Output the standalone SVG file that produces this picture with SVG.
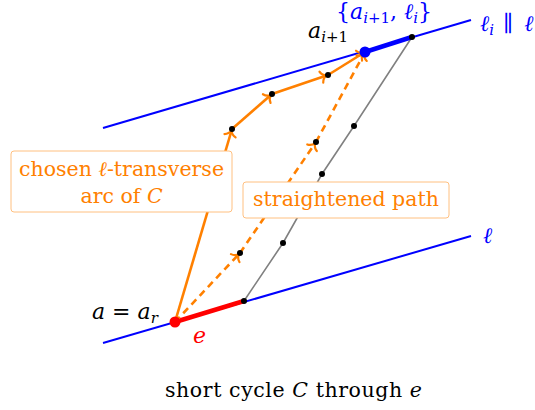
<svg xmlns="http://www.w3.org/2000/svg" width="535" height="410" viewBox="0 0 535 410">
<style>
text{font-family:"DejaVu Serif","Liberation Serif",serif;font-size:20.5px}
.it{font-style:italic}
.m{font-size:22px}
.s{font-size:15px}
.or{fill:#ff8000}
.box{fill:#fff;stroke:#ffc080;stroke-width:1}
.bl{stroke:#0000ff;stroke-width:2;fill:none}
.os{stroke:#ff8000;stroke-width:2.6;fill:none;marker-end:url(#ar)}
.od{stroke:#ff8000;stroke-width:2.6;fill:none;stroke-dasharray:7 5;marker-end:url(#ar)}
.dot{fill:#000}
</style>
<defs>
<marker id="ar" markerUnits="userSpaceOnUse" markerWidth="14" markerHeight="14" refX="1.5" refY="0" orient="auto" overflow="visible">
<path d="M -5.5,-5.8 C -4.6,-2.8 -2,-0.7 0,0 C -2,0.7 -4.6,2.8 -5.5,5.8" fill="none" stroke="#ff8000" stroke-width="2.2" stroke-linecap="round"/>
</marker>
</defs>
<g id="connectors">
<line class="bl" x1="103" y1="343" x2="471" y2="236"/>
<line class="bl" x1="103" y1="128" x2="471" y2="20"/>
<polyline points="244,301 283,243 322,174 354,126 412,37" fill="none" stroke="#808080" stroke-width="1.6"/>
<line x1="175" y1="322" x2="244" y2="301" stroke="#ff0000" stroke-width="4.5"/>
<line x1="365" y1="52" x2="412" y2="37" stroke="#0000ff" stroke-width="4.5"/>
<line class="os" x1="175" y1="322" x2="232" y2="129"/>
<line class="os" x1="232" y1="129" x2="272" y2="94"/>
<line class="os" x1="272" y1="94" x2="328" y2="75"/>
<line class="os" x1="328" y1="75" x2="365" y2="52"/>
<line class="od" x1="175" y1="322" x2="240" y2="253"/>
<line class="od" x1="240" y1="253" x2="316" y2="142"/>
<line class="od" x1="316" y1="142" x2="365" y2="52"/>
</g>
<g id="dots">
<circle class="dot" cx="244" cy="301" r="3"/>
<circle class="dot" cx="283" cy="243" r="3"/>
<circle class="dot" cx="322" cy="174" r="3"/>
<circle class="dot" cx="354" cy="126" r="3"/>
<circle class="dot" cx="412" cy="37" r="3"/>
<circle class="dot" cx="232" cy="129" r="3"/>
<circle class="dot" cx="272" cy="94" r="3"/>
<circle class="dot" cx="328" cy="75" r="3"/>
<circle class="dot" cx="240" cy="253" r="3"/>
<circle class="dot" cx="316" cy="142" r="3"/>
</g>
<g id="node-ar">
<circle cx="175" cy="322" r="5.5" fill="#ff0000"/>
<text class="m" x="92" y="319"><tspan class="it">a</tspan> = <tspan class="it">a</tspan><tspan class="it s" dy="4">r</tspan></text>
<text class="m it" x="193" y="343" fill="#ff0000">e</text>
</g>
<g id="node-ai1">
<circle cx="365" cy="52" r="5.5" fill="#0000ff"/>
<text class="m" x="308" y="38"><tspan class="it">a</tspan><tspan class="s" dy="4"><tspan class="it">i</tspan>+1</tspan></text>
<text class="m" x="336" y="19" fill="#0000ff">{<tspan class="it">a</tspan><tspan class="s" dy="4"><tspan class="it">i</tspan>+1</tspan><tspan dy="-4">, </tspan><tspan class="it">ℓ</tspan><tspan class="it s" dy="4">i</tspan><tspan dy="-4">}</tspan></text>
</g>
<g id="label-li">
<text class="m" x="480" y="31" fill="#0000ff"><tspan class="it">ℓ</tspan><tspan class="it s" dy="4">i</tspan><tspan dy="-4" dx="2"> ∥ </tspan><tspan class="it" dx="4">ℓ</tspan></text>
</g>
<g id="label-l">
<text class="m it" x="483" y="243" fill="#0000ff">ℓ</text>
</g>
<g id="box-chosen">
<rect class="box" x="11" y="151" width="221" height="61" rx="3"/>
<text class="or" x="121.5" y="176" text-anchor="middle">chosen <tspan class="it">ℓ</tspan>-transverse</text>
<text class="or" x="121.5" y="203" text-anchor="middle">arc of <tspan class="it">C</tspan></text>
</g>
<g id="box-straight">
<rect class="box" x="243" y="182" width="206" height="36" rx="3"/>
<text class="or" x="346" y="206" text-anchor="middle">straightened path</text>
</g>
<g id="caption">
<text x="165" y="397" font-size="21" textLength="257">short cycle <tspan class="it">C</tspan> through <tspan class="it">e</tspan></text>
</g>
</svg>
